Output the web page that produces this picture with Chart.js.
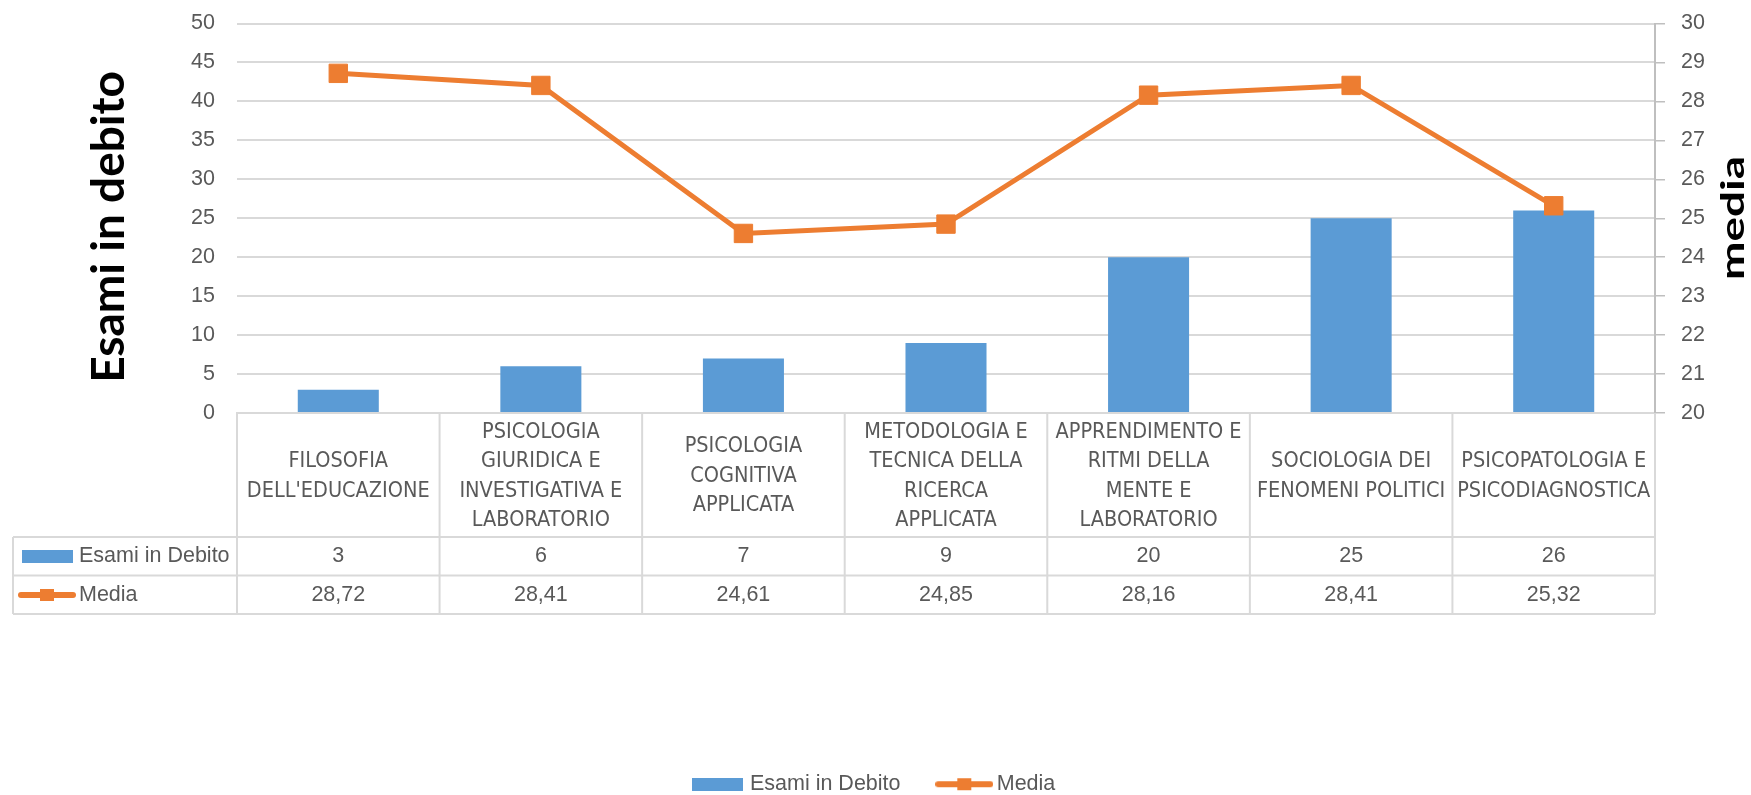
<!DOCTYPE html>
<html>
<head>
<meta charset="utf-8">
<script src="https://cdn.jsdelivr.net/npm/chart.js@4.4.1/dist/chart.umd.min.js"></script>
<style>
  html, body { margin: 0; padding: 0; background: #fff; }
  #chart { display: block; }
</style>
</head>
<body>
<canvas id="chart" width="1751" height="795"></canvas>
<script>
// categories (multi-line, as in the data table header)
const categories = [
    ['FILOSOFIA', "DELL'EDUCAZIONE"],
    ['PSICOLOGIA', 'GIURIDICA E', 'INVESTIGATIVA E', 'LABORATORIO'],
    ['PSICOLOGIA', 'COGNITIVA', 'APPLICATA'],
    ['METODOLOGIA E', 'TECNICA DELLA', 'RICERCA', 'APPLICATA'],
    ['APPRENDIMENTO E', 'RITMI DELLA', 'MENTE E', 'LABORATORIO'],
    ['SOCIOLOGIA DEI', 'FENOMENI POLITICI'],
    ['PSICOPATOLOGIA E', 'PSICODIAGNOSTICA']
];
const esamiInDebito = [3, 6, 7, 9, 20, 25, 26];
const media = [28.72, 28.41, 24.61, 24.85, 28.16, 28.41, 25.32];

const seriesNames = ['Esami in Debito', 'Media'];
const axisTitles = ['Esami in debito', 'media'];

const BLUE = '#5B9BD5';
const ORANGE = '#ED7D31';
const GRID = '#D9D9D9';
const TEXT = '#595959';
const narrowFamily = "'DejaVu Sans Condensed', 'Liberation Sans', sans-serif";
const plainFamily = "'Liberation Sans', Arial, sans-serif";

// little legend keys, reused in the bottom legend and in the table
function makeBarKey(){
    let c = document.createElement('canvas');
    c.width = 51; c.height = 13;
    let g = c.getContext('2d');
    g.fillStyle = BLUE;
    g.fillRect(0, 0, 51, 13);
    return c;
}
function makeLineKey(){
    let c = document.createElement('canvas');
    c.width = 58; c.height = 14;
    let g = c.getContext('2d');
    g.strokeStyle = ORANGE;
    g.lineWidth = 6;
    g.lineCap = 'round';
    g.beginPath();
    g.moveTo(3, 7);
    g.lineTo(55, 7);
    g.stroke();
    g.fillStyle = ORANGE;
    g.fillRect(22, 1, 14, 12);
    return c;
}
const keys = [makeBarKey(), makeLineKey()];

function fmt(v, dec){
    return v.toFixed(dec).replace('.', ',');
}

function drawVertical(ctx, text, cx, cy, font, squash){
    ctx.save();
    ctx.translate(cx, cy);
    ctx.rotate(-Math.PI / 2);
    ctx.scale(1, squash);
    ctx.font = font;
    ctx.fillStyle = '#000';
    ctx.textAlign = 'center';
    ctx.textBaseline = 'middle';
    ctx.fillText(text, 0, 0);
    ctx.restore();
}

// data table under the plot + rotated axis titles
const tablePlugin = {
    id: 'dataTable',
    afterDraw(chart){
        const ctx = chart.ctx;
        const area = chart.chartArea;
        const xs = chart.scales.x;
        const n = categories.length;
        const cw = (area.right - area.left) / n;
        const top = area.bottom;
        const r1 = top + 124, r2 = r1 + 38.5, r3 = r2 + 38.5;
        const tableLeft = 13;

        ctx.save();
        ctx.strokeStyle = GRID;
        ctx.lineWidth = 2;
        ctx.beginPath();
        [r1, r2, r3].forEach(y => { ctx.moveTo(tableLeft, y); ctx.lineTo(area.right, y); });
        ctx.moveTo(tableLeft, r1); ctx.lineTo(tableLeft, r3);
        for (let i = 0; i <= n; i++){
            let x = area.left + i * cw;
            ctx.moveTo(x, top); ctx.lineTo(x, r3);
        }
        ctx.stroke();

        const rows = [
            {y: (r1 + r2) / 2, key: keys[0], name: seriesNames[0], vals: esamiInDebito.map(v => fmt(v, 0))},
            {y: (r2 + r3) / 2, key: keys[1], name: seriesNames[1], vals: media.map(v => fmt(v, 2))}
        ];
        ctx.font = '21.5px ' + plainFamily;
        ctx.fillStyle = TEXT;
        ctx.textBaseline = 'middle';
        rows.forEach((r, k) => {
            ctx.drawImage(r.key, k === 0 ? 22 : 18, Math.round(r.y - r.key.height / 2));
            ctx.textAlign = 'left';
            ctx.fillText(r.name, 79, r.y);
            ctx.textAlign = 'center';
            r.vals.forEach((t, i) => ctx.fillText(t, xs.getPixelForValue(i), r.y));
        });
        ctx.restore();

        drawVertical(ctx, axisTitles[0], 109, 227, 'bold 46px Lato, sans-serif', 1);
        drawVertical(ctx, axisTitles[1], 1733, 218, 'bold 46px Lato, sans-serif', 0.72);
    }
};

const data = {
    labels: categories,
    datasets: [{
        type: 'bar',
        label: seriesNames[0],
        data: esamiInDebito,
        yAxisID: 'y',
        backgroundColor: BLUE,
        borderWidth: 0,
        barPercentage: 0.4,
        categoryPercentage: 1.0,
        order: 1
    }, {
        type: 'line',
        label: seriesNames[1],
        data: media,
        yAxisID: 'y2',
        borderColor: ORANGE,
        backgroundColor: ORANGE,
        borderWidth: 5,
        tension: 0,
        pointStyle: 'rect',
        pointRadius: 13,
        pointBorderWidth: 1,
        pointBackgroundColor: ORANGE,
        pointBorderColor: ORANGE,
        order: 0
    }]
};

const config = {
    type: 'bar',
    data: data,
    options: {
        responsive: false,
        animation: false,
        devicePixelRatio: 1,
        events: [],
        layout: { padding: { top: 23.5, left: 0, right: 0, bottom: -10 } },
        plugins: {
            tooltip: { enabled: false },
            legend: {
                position: 'bottom',
                labels: {
                    usePointStyle: true,
                    pointStyleWidth: 43.5,
                    padding: 42,
                    color: TEXT,
                    font: { family: plainFamily, size: 21.5 },
                    sort: (a, b) => a.datasetIndex - b.datasetIndex,
                    generateLabels: (chart) => {
                        let items = Chart.defaults.plugins.legend.labels.generateLabels(chart);
                        items.forEach(it => { it.pointStyle = keys[it.datasetIndex]; });
                        return items;
                    }
                }
            }
        },
        scales: {
            x: {
                grid: { display: false, drawTicks: false },
                border: { display: true, color: GRID, width: 2 },
                ticks: {
                    autoSkip: false,
                    maxRotation: 0,
                    minRotation: 0,
                    crossAlign: 'center',
                    padding: 19,
                    color: TEXT,
                    font: { family: narrowFamily, size: 21.5, lineHeight: 1.372 }
                },
                afterFit: (s) => {
                    let lh = s.chart.legend ? s.chart.legend.height : 77;
                    s.height = 795 + 10 - lh - 413;
                }
            },
            y: {
                position: 'left',
                min: 0,
                max: 50,
                ticks: { stepSize: 5, padding: 0, color: TEXT, font: { family: plainFamily, size: 21.5 } },
                grid: { color: GRID, lineWidth: 2, drawTicks: true, tickLength: 22, tickColor: 'rgba(0,0,0,0)' },
                border: { display: false },
                afterFit: (s) => { s.width = 237; }
            },
            y2: {
                position: 'right',
                min: 20,
                max: 30,
                ticks: { stepSize: 1, padding: 0, color: TEXT, font: { family: plainFamily, size: 21.5 } },
                grid: { drawOnChartArea: false, color: '#BFBFBF', lineWidth: 1.5, tickLength: 26, tickBorderDash: [9, 60] },
                border: { display: true, color: '#BFBFBF', width: 2 },
                afterFit: (s) => { s.width = 96; }
            }
        }
    },
    plugins: [tablePlugin]
};

let ctx = document.getElementById('chart').getContext('2d');
new Chart(ctx, config);
</script>
</body>
</html>
